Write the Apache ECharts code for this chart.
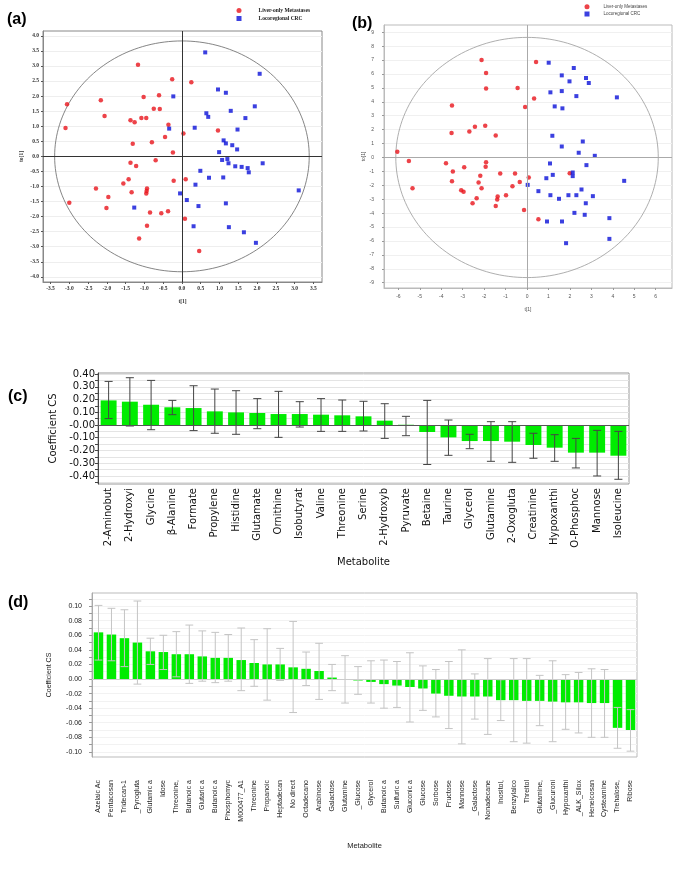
<!DOCTYPE html>
<html><head><meta charset="utf-8">
<script src="https://cdn.jsdelivr.net/npm/echarts@6/dist/echarts.min.js"></script>
<style>html,body{margin:0;padding:0;background:#fff}#c{width:685px;height:879px}</style>
</head><body><div id="c"></div>
<script>
// ---------- Panel (a) data ----------
const aLiver = [[-3.06,1.73],[-3.10,0.94],[-3.00,-1.54],[-2.16,1.86],[-2.06,1.34],[-2.29,-1.07],[-1.96,-1.35],[-2.01,-1.71],[-1.17,3.04],[-1.02,1.97],[-1.37,1.20],[-1.26,1.13],[-1.08,1.27],[-0.95,1.27],[-1.31,0.42],[-0.80,0.47],[-0.75,1.58],[-0.61,2.03],[-0.59,1.57],[-0.26,2.56],[-0.36,1.05],[-0.45,0.64],[-0.24,0.13],[0.25,2.46],[0.04,0.76],[0.96,0.86],[-1.37,-0.21],[-1.22,-0.32],[-0.70,-0.13],[-1.42,-0.76],[-1.56,-0.90],[-1.34,-1.19],[-0.93,-1.07],[-0.94,-1.15],[-0.95,-1.23],[-0.85,-1.86],[-0.55,-1.89],[-0.37,-1.82],[-0.22,-0.81],[0.10,-0.76],[0.08,-2.07],[-0.93,-2.30],[-1.14,-2.73],[0.46,-3.14]];
const aLoco = [[0.62,3.45],[2.07,2.74],[0.96,2.22],[1.17,2.11],[-0.23,1.99],[1.94,1.66],[1.30,1.51],[0.65,1.43],[0.70,1.31],[1.69,1.27],[-0.34,0.92],[0.34,0.95],[1.48,0.89],[1.11,0.53],[1.17,0.43],[1.34,0.37],[1.47,0.23],[0.99,0.14],[1.07,-0.12],[1.21,-0.09],[1.24,-0.23],[1.42,-0.33],[1.59,-0.35],[1.75,-0.39],[1.78,-0.53],[2.15,-0.23],[0.49,-0.48],[0.72,-0.71],[1.10,-0.70],[0.36,-0.94],[-0.05,-1.23],[0.13,-1.45],[0.44,-1.65],[1.17,-1.56],[-1.27,-1.70],[0.31,-2.32],[1.25,-2.35],[1.65,-2.52],[1.97,-2.87],[3.11,-1.13]];
const aEllipse = [[0, 0, 3.39, 3.83]];
const aXTicks = [-3.5,-3.0,-2.5,-2.0,-1.5,-1.0,-0.5,0,0.5,1.0,1.5,2.0,2.5,3.0,3.5];
const aYTicks = [-4.0,-3.5,-3.0,-2.5,-2.0,-1.5,-1.0,-0.5,0,0.5,1.0,1.5,2.0,2.5,3.0,3.5,4.0];

// ---------- Panel (b) data ----------
const bLiver = [[-6.05,0.41],[-5.51,-0.26],[-5.34,-2.21],[-3.50,3.74],[-3.52,1.75],[-2.69,1.87],[-2.43,2.21],[-2.12,7.00],[-1.91,6.07],[-1.91,4.96],[-1.95,2.28],[-1.46,1.58],[-0.44,4.99],[0.42,6.86],[0.33,4.24],[-0.09,3.62],[-3.78,-0.41],[-2.93,-0.70],[-1.91,-0.34],[-1.93,-0.67],[-3.46,-1.01],[-3.50,-1.70],[-2.18,-1.32],[-2.26,-1.80],[-2.12,-2.21],[-3.07,-2.35],[-2.96,-2.47],[-2.35,-2.93],[-2.54,-3.29],[-1.25,-1.15],[-1.37,-2.81],[-1.39,-3.02],[-1.46,-3.48],[-0.98,-2.71],[-0.56,-1.15],[-0.34,-1.77],[-0.68,-2.06],[0.08,-1.44],[-0.14,-3.77],[0.53,-4.44],[1.99,-1.13]];
const bLoco = [[1.01,6.81],[2.18,6.43],[1.62,5.90],[1.98,5.47],[2.75,5.71],[2.88,5.35],[1.09,4.68],[1.62,4.77],[2.30,4.41],[4.19,4.32],[1.29,3.67],[1.65,3.53],[1.18,1.56],[1.62,0.79],[2.60,1.15],[2.41,0.34],[3.16,0.12],[1.07,-0.43],[2.77,-0.55],[2.13,-1.08],[2.13,-1.34],[1.20,-1.25],[0.90,-1.49],[0.03,-1.97],[0.53,-2.42],[1.09,-2.71],[1.93,-2.71],[2.30,-2.71],[1.49,-2.97],[2.54,-2.30],[3.07,-2.78],[2.74,-3.29],[2.21,-3.98],[2.69,-4.12],[0.93,-4.60],[1.63,-4.60],[3.84,-4.36],[4.53,-1.68],[3.84,-5.85],[1.82,-6.16]];
const bEllipse = [[0, 0, 6.12, 8.63]];
const bXTicks = [-6,-5,-4,-3,-2,-1,0,1,2,3,4,5,6];
const bYTicks = [-9,-8,-7,-6,-5,-4,-3,-2,-1,0,1,2,3,4,5,6,7,8,9];

// ---------- Panel (c) data ----------
const cCats = ['2-Aminobut','2-Hydroxyi','Glycine','\u03B2-Alanine','Formate','Propylene','Histidine','Glutamate','Ornithine','Isobutyrat','Valine','Threonine','Serine','2-Hydroxyb','Pyruvate','Betaine','Taurine','Glycerol','Glutamine','2-Oxogluta','Creatinine','Hypoxanthi','O-Phosphoc','Mannose','Isoleucine'];
const cValues = [0.193,0.183,0.159,0.139,0.133,0.107,0.099,0.094,0.086,0.086,0.081,0.076,0.068,0.034,0.002,-0.055,-0.097,-0.126,-0.126,-0.131,-0.157,-0.178,-0.217,-0.217,-0.241];
const cErrLow = [0.050,-0.008,-0.037,0.081,-0.044,-0.065,-0.073,-0.029,-0.097,-0.016,-0.050,-0.050,-0.047,-0.105,-0.084,-0.310,-0.238,-0.186,-0.285,-0.293,-0.261,-0.285,-0.337,-0.400,-0.426];
const cErrHigh = [0.342,0.371,0.350,0.193,0.308,0.282,0.269,0.207,0.264,0.183,0.207,0.196,0.186,0.167,0.068,0.193,0.039,-0.073,0.026,0.026,-0.065,-0.076,-0.105,-0.042,-0.050];
const cYLabels = [-0.4,-0.3,-0.2,-0.1,0,0.1,0.2,0.3,0.4];
const cYTicks = [-0.45,-0.4,-0.35,-0.3,-0.25,-0.2,-0.15,-0.1,-0.05,0,0.05,0.1,0.15,0.2,0.25,0.3,0.35,0.4];

// ---------- Panel (d) data ----------
const dCats = ['Azelaic Ac','Pentacosan','Tridecan-1','_Pyrogluta','Glutamic a','Idose','Threonine,','Butanoic a','Glutaric a','Butanoic a','Phosphomyc','M000477_A1','Threonine','Propanoic','Heptadecan','No direct','Octadecano','Arabinose','Galactose','Glutamine','_Glucose','Glycerol','Butanoic a','Sulfuric a','Gluconic a','Glucose','Sorbose','Fructose','Mannose','_Galactose','Nonadecane','Inositol,','Benzylalco','Threitol','Glutamine,','_Glucuroni','Hypoxanthi','_ALK_Silox','Heneicosan','Cysteamine','Trehalose,','Ribose'];
const dValues = [0.064,0.061,0.056,0.050,0.038,0.037,0.034,0.034,0.031,0.029,0.029,0.026,0.022,0.020,0.020,0.016,0.014,0.011,0.002,-0.001,-0.002,-0.004,-0.007,-0.009,-0.011,-0.013,-0.020,-0.023,-0.024,-0.024,-0.024,-0.029,-0.029,-0.030,-0.030,-0.031,-0.032,-0.032,-0.033,-0.033,-0.067,-0.070];
const dErrLow = [0.026,0.025,0.017,-0.007,0.020,0.013,0.003,-0.006,-0.003,-0.005,-0.003,-0.016,-0.010,-0.029,-0.002,-0.046,-0.009,-0.028,-0.016,-0.033,-0.021,-0.033,-0.040,-0.039,-0.059,-0.043,-0.052,-0.068,-0.089,-0.055,-0.076,-0.057,-0.086,-0.088,-0.064,-0.086,-0.069,-0.074,-0.080,-0.080,-0.095,-0.099];
const dErrHigh = [0.101,0.097,0.095,0.107,0.056,0.060,0.065,0.074,0.066,0.064,0.061,0.070,0.054,0.069,0.042,0.079,0.037,0.049,0.020,0.032,0.017,0.025,0.026,0.024,0.036,0.018,0.013,0.024,0.040,0.007,0.028,-0.001,0.028,0.028,0.005,0.025,0.006,0.009,0.014,0.013,-0.039,-0.042];
const dYLabels = [-0.10,-0.08,-0.06,-0.04,-0.02,0,0.02,0.04,0.06,0.08,0.10];
const dYTicks = [-0.10,-0.09,-0.08,-0.07,-0.06,-0.05,-0.04,-0.03,-0.02,-0.01,0,0.01,0.02,0.03,0.04,0.05,0.06,0.07,0.08,0.09,0.10,0.11];

const RED = '#e8141b', BLUE = '#0a10d8', GREEN = '#00ec00';

function ellipseRender(color) {
  return function (params, api) {
    const cx = api.value(0), cy = api.value(1), rx = api.value(2), ry = api.value(3);
    const pts = [];
    for (let k = 0; k <= 180; k++) {
      const t = 2 * Math.PI * k / 180;
      pts.push(api.coord([cx + rx * Math.cos(t), cy + ry * Math.sin(t)]));
    }
    return { type: 'polyline', shape: { points: pts }, style: { stroke: color, lineWidth: 0.8, fill: null } };
  };
}
function errRender(color, capFrac) {
  return function (params, api) {
    const x = api.value(0), lo = api.value(1), hi = api.value(2);
    const p1 = api.coord([x, hi]), p2 = api.coord([x, lo]);
    const hw = api.size([1, 0])[0] * capFrac;
    const st = { stroke: color, lineWidth: 1 };
    return { type: 'group', children: [
      { type: 'line', shape: { x1: p1[0], y1: p1[1], x2: p2[0], y2: p2[1] }, style: st },
      { type: 'line', shape: { x1: p1[0] - hw, y1: p1[1], x2: p1[0] + hw, y2: p1[1] }, style: st },
      { type: 'line', shape: { x1: p2[0] - hw, y1: p2[1], x2: p2[0] + hw, y2: p2[1] }, style: st }
    ] };
  };
}

const serifSmall = { fontFamily: 'Liberation Serif', fontSize: 5.5, fontWeight: 'bold', color: '#333' };
const sansSmall = { fontFamily: 'Liberation Sans', fontSize: 5, color: '#555' };

const option = {
  animation: false,
  backgroundColor: '#fff',
  graphic: [
    { type: 'text', left: 7, top: 12, style: { text: '(a)', font: 'bold 16px "Liberation Sans"', fill: '#000' } },
    { type: 'text', left: 352, top: 16, style: { text: '(b)', font: 'bold 16px "Liberation Sans"', fill: '#000' } },
    { type: 'text', left: 8, top: 389, style: { text: '(c)', font: 'bold 16px "Liberation Sans"', fill: '#000' } },
    { type: 'text', left: 8, top: 595, style: { text: '(d)', font: 'bold 16px "Liberation Sans"', fill: '#000' } }
  ],
  legend: [
    { orient: 'vertical', left: 236.5, top: 7.5, padding: 0, itemWidth: 5, itemHeight: 5, itemGap: 2,
      data: [{ name: 'Liver-only Metastases', icon: 'circle' }, { name: 'Locoregional CRC', icon: 'rect' }],
      textStyle: { fontFamily: 'Liberation Serif', fontSize: 5.5, fontWeight: 'bold', color: '#222', lineHeight: 5, padding: [0, 0, 0, 12] } },
    { orient: 'vertical', left: 584.5, top: 4.2, padding: 0, itemWidth: 5, itemHeight: 5, itemGap: 2.3,
      data: [{ name: 'Liver-only Metastases', icon: 'circle' }, { name: 'Locoregional CRC', icon: 'rect' }],
      textStyle: { fontFamily: 'Liberation Sans', fontSize: 4.5, color: '#444', lineHeight: 5, padding: [0, 0, 0, 9] } }
  ],
  grid: [
    { left: 43, top: 31, width: 279, height: 251, show: true, borderColor: '#888', borderWidth: 1 },
    { left: 384, top: 25, width: 288, height: 263, show: true, borderColor: '#bbb', borderWidth: 1 },
    { left: 98, top: 373, width: 531, height: 111, show: true, borderColor: '#999', borderWidth: 1 },
    { left: 92, top: 593, width: 545, height: 164, show: true, borderColor: '#bbb', borderWidth: 1 }
  ],
  xAxis: [
    { gridIndex: 0, type: 'value', min: -3.7, max: 3.73, name: 't[1]', nameLocation: 'middle', nameGap: 17,
      nameTextStyle: serifSmall,
      axisLine: { show: true, onZero: false, lineStyle: { color: '#888' } },
      axisTick: { show: true, length: 2, customValues: aXTicks, lineStyle: { color: '#555' } },
      axisLabel: { customValues: aXTicks, margin: 4, ...serifSmall, formatter: v => v.toFixed(1) },
      splitLine: { show: false } },
    { gridIndex: 1, type: 'value', min: -6.67, max: 6.76, name: 't[1]', nameLocation: 'middle', nameGap: 19,
      nameTextStyle: sansSmall,
      axisLine: { show: true, onZero: false, lineStyle: { color: '#bbb' } },
      axisTick: { show: true, length: 2, customValues: bXTicks, lineStyle: { color: '#999' } },
      axisLabel: { customValues: bXTicks, margin: 6, ...sansSmall },
      splitLine: { show: false } },
    { gridIndex: 2, type: 'category', data: cCats, name: 'Metabolite', nameLocation: 'middle', nameGap: 73,
      nameTextStyle: { fontFamily: 'DejaVu Sans', fontSize: 10, color: '#111' },
      axisLine: { show: false }, axisTick: { show: false },
      axisLabel: { interval: 0, rotate: 90, margin: 4, fontFamily: 'DejaVu Sans', fontSize: 10, color: '#111' },
      splitLine: { show: false } },
    { gridIndex: 3, type: 'category', data: dCats, name: 'Metabolite', nameLocation: 'middle', nameGap: 85,
      nameTextStyle: { fontFamily: 'Liberation Sans', fontSize: 7.5, color: '#222' },
      axisLine: { show: false }, axisTick: { show: false },
      axisLabel: { interval: 0, rotate: 90, margin: 23, fontFamily: 'Liberation Sans', fontSize: 7, color: '#222' },
      splitLine: { show: false } }
  ],
  yAxis: [
    { gridIndex: 0, type: 'value', min: -4.17, max: 4.16, name: 'to[1]', nameLocation: 'middle', nameGap: 18,
      nameTextStyle: serifSmall,
      axisLine: { show: true, onZero: false, lineStyle: { color: '#888' } },
      axisTick: { show: true, length: 2, customValues: aYTicks, lineStyle: { color: '#555' } },
      axisLabel: { customValues: aYTicks, margin: 4, ...serifSmall, formatter: v => v.toFixed(1) },
      splitLine: { show: true, lineStyle: { color: '#eeeeee', width: 1 } } },
    { gridIndex: 1, type: 'value', min: -9.38, max: 9.52, name: 'to[1]', nameLocation: 'middle', nameGap: 17,
      nameTextStyle: sansSmall,
      axisLine: { show: true, onZero: false, lineStyle: { color: '#bbb' } },
      axisTick: { show: true, length: 2, customValues: bYTicks, lineStyle: { color: '#999' } },
      axisLabel: { customValues: bYTicks, margin: 10, ...sansSmall },
      splitLine: { show: true, lineStyle: { color: '#f0f0f0', width: 1 } } },
    { gridIndex: 2, type: 'value', min: -0.463, max: 0.408, name: 'Coefficient CS', nameLocation: 'middle', nameGap: 38,
      nameTextStyle: { fontFamily: 'DejaVu Sans', fontSize: 10, color: '#111' },
      axisLine: { show: true, onZero: false, lineStyle: { color: '#444' } },
      axisTick: { show: true, length: 3, customValues: cYTicks, lineStyle: { color: '#444' } },
      axisLabel: { customValues: cYLabels, margin: 3, fontFamily: 'DejaVu Sans', fontSize: 10, color: '#111',
        formatter: v => (Math.abs(v) < 1e-9 ? '-0.00' : v.toFixed(2)) },
      splitLine: { show: true, lineStyle: { color: '#e4e4e4', width: 1 } } },
    { gridIndex: 3, type: 'value', min: -0.107, max: 0.118, name: 'Coefficient CS', nameLocation: 'middle', nameGap: 39,
      nameTextStyle: { fontFamily: 'Liberation Sans', fontSize: 7, color: '#222' },
      axisLine: { show: true, onZero: false, lineStyle: { color: '#aaa' } },
      axisTick: { show: true, length: 3, customValues: dYTicks, lineStyle: { color: '#999' } },
      axisLabel: { customValues: dYLabels, margin: 10, fontFamily: 'Liberation Sans', fontSize: 7, color: '#222',
        formatter: v => (Math.abs(v) < 1e-9 ? '0.00' : v.toFixed(2)) },
      splitLine: { show: true, lineStyle: { color: '#f2f2f2', width: 1 } } }
  ],
  series: [
    { type: 'custom', name: 'ellipseA', xAxisIndex: 0, yAxisIndex: 0, data: aEllipse, renderItem: ellipseRender('#666'), silent: true, z: 1 },
    { type: 'scatter', name: 'Liver-only Metastases', xAxisIndex: 0, yAxisIndex: 0, data: aLiver, symbol: 'circle', symbolSize: 4.5,
      itemStyle: { color: RED }, z: 3,
      markLine: { silent: true, symbol: 'none', label: { show: false }, lineStyle: { color: '#333', width: 1, type: 'solid' },
        data: [{ xAxis: 0 }, { yAxis: 0 }] } },
    { type: 'scatter', name: 'Locoregional CRC', xAxisIndex: 0, yAxisIndex: 0, data: aLoco, symbol: 'rect', symbolSize: 4,
      itemStyle: { color: BLUE }, z: 3 },
    { type: 'custom', name: 'ellipseB', xAxisIndex: 1, yAxisIndex: 1, data: bEllipse, renderItem: ellipseRender('#999'), silent: true, z: 1 },
    { type: 'scatter', name: 'Liver-only Metastases', xAxisIndex: 1, yAxisIndex: 1, data: bLiver, symbol: 'circle', symbolSize: 4.5,
      itemStyle: { color: RED }, z: 3,
      markLine: { silent: true, symbol: 'none', label: { show: false }, lineStyle: { color: '#aaa', width: 1, type: 'solid' },
        data: [{ xAxis: 0 }, { yAxis: 0 }] } },
    { type: 'scatter', name: 'Locoregional CRC', xAxisIndex: 1, yAxisIndex: 1, data: bLoco, symbol: 'rect', symbolSize: 4,
      itemStyle: { color: BLUE }, z: 3 },
    { type: 'bar', name: 'cBar', xAxisIndex: 2, yAxisIndex: 2, data: cValues, barWidth: '75%', itemStyle: { color: GREEN }, z: 2,
      markLine: { silent: true, symbol: 'none', label: { show: false }, lineStyle: { color: '#555', width: 1, type: 'solid' },
        data: [{ yAxis: 0 }] } },
    { type: 'custom', name: 'cErr', xAxisIndex: 2, yAxisIndex: 2, data: cCats.map((c, i) => [i, cErrLow[i], cErrHigh[i]]),
      encode: { x: 0, y: [1, 2] }, renderItem: errRender('#444', 0.19), z: 4 },
    { type: 'bar', name: 'dBar', xAxisIndex: 3, yAxisIndex: 3, data: dValues, barWidth: '73%', itemStyle: { color: GREEN }, z: 2,
      markLine: { silent: true, symbol: 'none', label: { show: false }, lineStyle: { color: '#ccc', width: 1, type: 'solid' },
        data: [{ yAxis: 0 }] } },
    { type: 'custom', name: 'dErr', xAxisIndex: 3, yAxisIndex: 3, data: dCats.map((c, i) => [i, dErrLow[i], dErrHigh[i]]),
      encode: { x: 0, y: [1, 2] }, renderItem: errRender('#c4c4c4', 0.3), z: 4 }
  ]
};
const chart = echarts.init(document.getElementById('c'), null, { renderer: 'canvas' });
chart.setOption(option);
</script>
</body></html>
